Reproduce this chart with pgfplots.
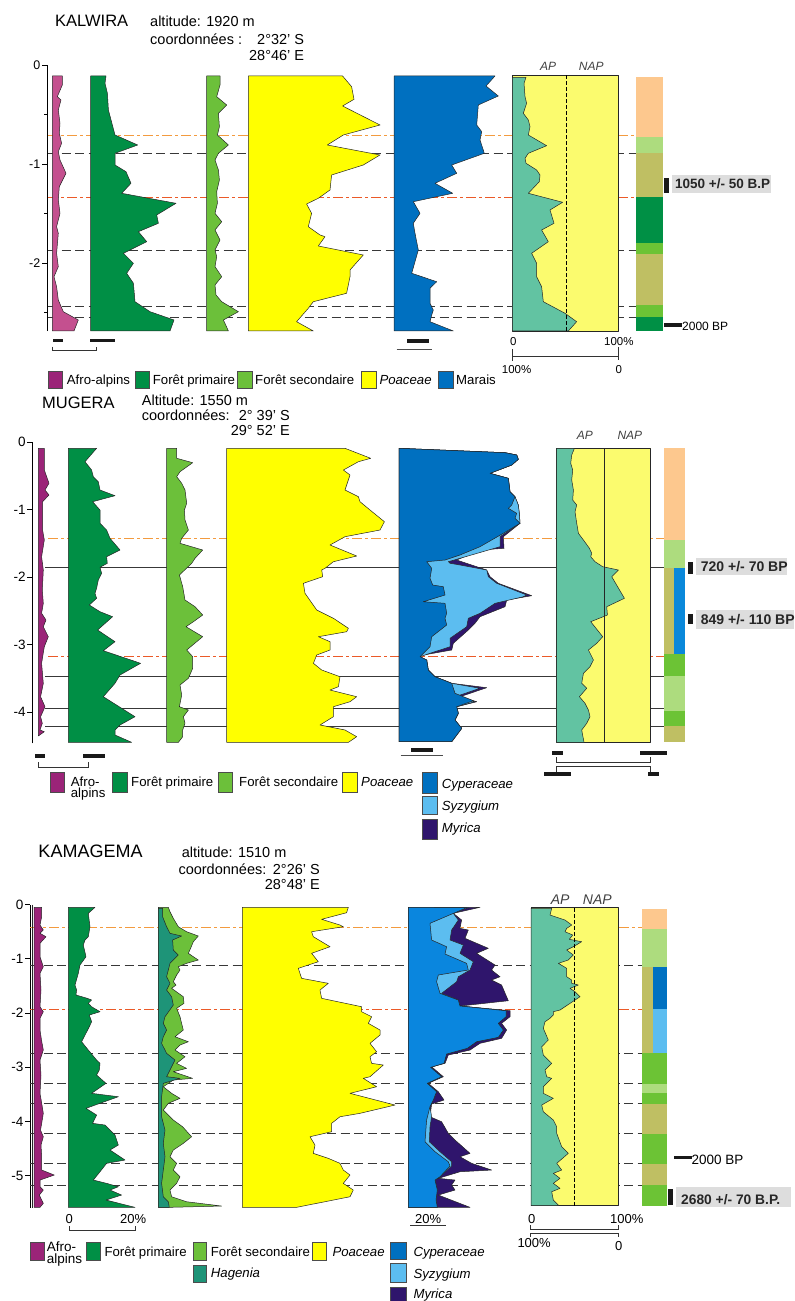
\documentclass[border=0pt]{standalone}
\usepackage{fontspec}
\setmainfont{Liberation Sans}
\usepackage{pgfplots}
\pgfplotsset{compat=1.18}
\definecolor{afroA}{HTML}{C4508F}
\definecolor{afro}{HTML}{9B2478}
\definecolor{fp}{HTML}{008F45}
\definecolor{fsec}{HTML}{6CC03A}
\definecolor{poa}{HTML}{FFFF00}
\definecolor{mar}{HTML}{0070C0}
\definecolor{cypC}{HTML}{0A86DE}
\definecolor{syz}{HTML}{5CBDF0}
\definecolor{myr}{HTML}{2F156C}
\definecolor{hag}{HTML}{1E9478}
\definecolor{apc}{HTML}{62C3A2}
\definecolor{napc}{HTML}{FBFB6E}
\definecolor{zpeach}{HTML}{FDC88E}
\definecolor{zlg}{HTML}{ADDC7E}
\definecolor{zol}{HTML}{BFBF63}
\definecolor{zdg}{HTML}{009045}
\definecolor{zmg}{HTML}{6CC335}
\definecolor{zbl}{HTML}{0A88DA}
\definecolor{zdb}{HTML}{0071C1}
\definecolor{lorange}{HTML}{F39B3F}
\definecolor{lred}{HTML}{EB5A28}
\definecolor{lgray}{HTML}{383838}
\definecolor{dbox}{HTML}{DDDDDD}
\newcommand\fs[1]{\fontsize{#1bp}{#1bp}\selectfont}
\def\Yo{65}\def\Ys{99}
\newcommand\cv[3]{\addplot[#1] table[x expr=\thisrow{w}+#2, y expr=(\Yo-\thisrow{y})/\Ys, row sep=\\]{#3} -- cycle;}
\newcommand\zn[5]{\addplot[fill=#1,draw=none] table[x=x, y expr=(\Yo-\thisrow{y})/\Ys, row sep=\\]{x y\\ #2 #4\\ #3 #4\\ #3 #5\\ #2 #5\\} -- cycle;}
\newcommand\hl[4]{\addplot[#1] table[x=x, y expr=(\Yo-\thisrow{y})/\Ys, row sep=\\]{x y\\ #2 #4\\ #3 #4\\};}
\newcommand\vl[4]{\addplot[#1] table[x=x, y expr=(\Yo-\thisrow{y})/\Ys, row sep=\\]{x y\\ #2 #3\\ #2 #4\\};}
\tikzset{sp/.style={draw=black!85, line width=0.5bp, line join=round},
 gd/.style={draw=lgray, line width=0.9bp, dash pattern=on 9bp off 4.5bp},
 gs/.style={draw=lgray, line width=0.8bp},
 t/.style={inner sep=0pt, anchor=base west},
 te/.style={inner sep=0pt, anchor=base east},
 lb/.style={draw=black!70, line width=0.4bp}}
\pgfplotsset{panel/.style={at={(0pt,0pt)}, anchor=north west, scale only axis, hide x axis, axis y line*=left,
 axis line style={-, line width=0.6bp}, clip=false, tick align=outside, major tick length=5bp,
 minor tick length=3bp, tick style={line width=0.6bp, black}, yticklabel style={inner sep=1.5bp}}}
\begin{document}
\begin{tikzpicture}[x=1bp,y=1bp]
\path[use as bounding box] (0,0) rectangle (794,-1301);
% ================= PANEL 1 KALWIRA =================
\def\Yo{65}\def\Ys{99}
\begin{scope}[shift={(47bp,-65bp)}]
\begin{axis}[panel, width=653bp, height=266bp, xmin=47, xmax=700, ymin=-2.687, ymax=0,
 ytick={0,-1,-2}, yticklabels={0,-1,-2}, minor ytick={-0.5,-1.5,-2.5}, yticklabel style={font=\fs{12.5}}]
\hl{gd}{48}{636}{153.3}
\hl{gd}{48}{636}{250.7}
\hl{gd}{48}{636}{306.7}
\hl{gd}{48}{636}{317.3}
\hl{color=lorange, solid, line width=1.4bp, dash pattern=on 10bp off 3bp on 3bp off 3bp}{48}{636}{135.5}
\hl{color=lred, solid, line width=1.4bp, dash pattern=on 10bp off 3bp on 3bp off 3bp}{48}{636}{197.5}
\zn{zpeach}{636}{663}{76.7}{136.7}
\zn{zlg}{636}{663}{136.7}{153.3}
\zn{zol}{636}{663}{153.3}{196.7}
\zn{zdg}{636}{663}{196.7}{242.7}
\zn{zmg}{636}{663}{242.7}{254}
\zn{zol}{636}{663}{254}{305}
\zn{zmg}{636}{663}{305}{316.7}
\zn{zdg}{636}{663}{316.7}{331}
\cv{sp,fill=afroA}{52.3}{y w\\ 76 0\\ 76 10\\ 85 10\\ 96.7 5\\ 100 8.7\\ 110 6\\ 123.3 7.7\\ 133.3 7\\ 143.3 9.3\\ 151.7 6\\ 160 7.7\\ 173.3 13.7\\ 186.7 7\\ 200 6\\ 213.3 7.7\\ 226.7 4.3\\ 233.3 6\\ 253.3 4.3\\ 266.7 6\\ 276.7 1.7\\ 286.7 4.3\\ 300 6\\ 311.7 11\\ 320 26\\ 331 21.7\\ 331 0\\}
\cv{sp,fill=fp}{90.7}{y w\\ 76 0\\ 76 15.3\\ 83.3 14.3\\ 93.3 16.7\\ 110 17.7\\ 135 24.3\\ 145 47\\ 153.3 24.3\\ 165 24.3\\ 171.7 35.3\\ 183.3 40.3\\ 193.3 31\\ 203.3 85.3\\ 215 66\\ 223.3 67.7\\ 231.7 47.7\\ 241.7 56\\ 253.3 32.7\\ 263.3 42.7\\ 273.3 36\\ 283.3 42.7\\ 301.7 44.3\\ 311.7 59.3\\ 320 83.3\\ 331 79.3\\ 331 0\\}
\cv{sp,fill=fsec}{206.7}{y w\\ 76 0\\ 76 13.3\\ 85 13.3\\ 96.7 10\\ 105 20\\ 113.3 11.7\\ 126.7 12.7\\ 135 10.7\\ 145 21.7\\ 153.3 11.7\\ 160 8.3\\ 170 11.7\\ 180 12.7\\ 191.7 10\\ 203.3 10.7\\ 213.3 8.3\\ 221.7 15\\ 230 8.3\\ 240 13.3\\ 250 8.3\\ 256.7 10\\ 266.7 8.3\\ 276.7 15\\ 285 8.3\\ 295 9.3\\ 301.7 15\\ 311.7 31.7\\ 320 16.7\\ 331 21.7\\ 331 0\\}
\cv{sp,fill=poa}{248.3}{y w\\ 76 0\\ 76 94.3\\ 86.7 103.3\\ 99.3 105.7\\ 106 94.3\\ 125 131.7\\ 135 95\\ 145 79\\ 155 131.7\\ 165 115\\ 175 83.3\\ 190 81.7\\ 198.3 70\\ 204 58.3\\ 213.3 63.3\\ 226.7 60\\ 235 71.7\\ 236.7 76.7\\ 246 70\\ 255 115\\ 270 101.7\\ 276.7 101.7\\ 293.3 98.3\\ 301.7 65\\ 308.3 60\\ 321.7 48.3\\ 331 65\\ 331 0\\}
\cv{sp,fill=mar}{394}{y w\\ 76 0\\ 76 101\\ 86 92\\ 96 104.3\\ 105 84.3\\ 125 82.7\\ 131.7 87.7\\ 140 86\\ 153.3 90.3\\ 165 57.7\\ 173.3 62.7\\ 183.3 41\\ 193.3 58.7\\ 201.7 19.3\\ 213.3 26\\ 223.3 19.3\\ 233.3 21\\ 250 24.3\\ 273.3 17.7\\ 281.7 42.7\\ 288.3 36\\ 303.3 36\\ 310 39.3\\ 315 37.7\\ 321.7 36\\ 331 59.3\\ 331 0\\}
\addplot[sp,fill=napc] table[x=x, y expr=(\Yo-\thisrow{y})/\Ys, row sep=\\]{x y\\ 512.3 75.3\\ 618.7 75.3\\ 618.7 331\\ 512.3 331\\} -- cycle;
\cv{sp,fill=apc}{512.3}{y w\\ 77.3 0\\ 77.3 13.7\\ 83.3 11.7\\ 96.7 12.7\\ 103.3 14.3\\ 113.3 11\\ 120 16\\ 126.7 17.7\\ 135 16\\ 145.7 34.3\\ 153.3 16\\ 158.3 12.7\\ 163.3 13.7\\ 170 24.3\\ 175 27.7\\ 181.7 27\\ 193.3 16\\ 202.3 50.3\\ 210 37.7\\ 223.3 41.7\\ 230 29.3\\ 241.7 36\\ 253.3 19.3\\ 263.3 24.3\\ 276.7 24.3\\ 286.7 29.3\\ 301.7 31\\ 313.3 52.7\\ 321.7 64.3\\ 331 56\\ 331 0\\}
\vl{black, line width=0.6bp, dash pattern=on 4bp off 2bp}{566.7}{75.3}{331}
\end{axis}
\end{scope}
% text panel 1
\node[t,font=\fs{16.5}] at (55,-26.7) {KALWIRA};
\node[t,font=\fs{14.5}] at (150,-26.7) {altitude: 1920 m};
\node[t,font=\fs{14.5}] at (150,-44.3) {coordonnées :};
\node[te,font=\fs{14.5}] at (304.3,-44.3) {2°32’ S};
\node[te,font=\fs{14.5}] at (304.3,-61) {28°46’ E};
\node[t,font=\fs{12}\itshape,text=black!75] at (540,-70.7) {AP};
\node[t,font=\fs{12}\itshape,text=black!75] at (578.7,-70.7) {NAP};
\fill[black!90] (52.7,-339) rectangle (62.7,-342);
\fill[black!90] (90,-339) rectangle (115,-342);
\draw[black!80,line width=0.5bp] (52.7,-346.7)--(52.7,-350)--(96,-350)--(96,-346.7);
\fill[black!90] (406.7,-339.3) rectangle (429,-343.3);
\draw[black!70,line width=0.6bp] (396.7,-349)--(432.3,-349);
\node[t,font=\fs{11.5}] at (510,-345) {0};
\node[t,font=\fs{11.5}] at (604,-345) {100\%};
\draw[black!80,line width=0.5bp] (512.3,-349)--(512.3,-361);
\draw[black!80,line width=0.5bp] (618.7,-347)--(618.7,-360);
\draw[black!80,line width=0.5bp] (512.3,-356.7)--(618.7,-356.7);
\node[t,font=\fs{11.5}] at (501.7,-373.3) {100\%};
\node[t,font=\fs{11.5}] at (615.3,-373.3) {0};
\fill[dbox] (672,-175) rectangle (771,-193);
\fill[black!90] (664,-177.7) rectangle (668.7,-193.3);
\node[t,font=\fs{13.5}\bfseries,text=black!85] at (675,-188.3) {1050 +/- 50 B.P};
\fill[black!90] (664,-322.7) rectangle (681.7,-327.3);
\node[t,font=\fs{12}] at (682,-330.7) {2000 BP};
% legend 1
\draw[lb,fill=afro] (48.3,-370.7) rectangle (61.7,-388.3);
\node[t,font=\fs{13.2}] at (66.7,-384.3) {Afro-alpins};
\draw[lb,fill=fp] (135,-370.7) rectangle (149,-388.3);
\node[t,font=\fs{13.2}] at (152.7,-384.3) {Forêt primaire};
\draw[lb,fill=fsec] (236.7,-370.7) rectangle (251.7,-388.3);
\node[t,font=\fs{13.2}] at (255,-384.3) {Forêt secondaire};
\draw[lb,fill=poa] (360.7,-370.7) rectangle (375.7,-388.3);
\node[t,font=\fs{13.2}\itshape] at (379.3,-384.3) {Poaceae};
\draw[lb,fill=mar] (438,-370.7) rectangle (453,-388.3);
\node[t,font=\fs{13.2}] at (456,-384.3) {Marais};
% ================= PANEL 2 MUGERA =================
\def\Yo{442.3}\def\Ys{67.4}
\begin{scope}[shift={(32.3bp,-442.3bp)}]
\begin{axis}[panel, width=667.7bp, height=301bp, xmin=32.3, xmax=700, ymin=-4.466, ymax=0,
 ytick={0,-1,-2,-3,-4}, yticklabels={0,-1,-2,-3,-4}, yticklabel style={font=\fs{13.5}}]
\hl{color=lorange, solid, line width=1.1bp, dash pattern=on 10bp off 3bp on 3bp off 3bp}{48}{664}{538.3}
\hl{gs}{45}{664}{567.7}
\hl{color=lred, solid, line width=1.1bp, dash pattern=on 10bp off 3bp on 3bp off 3bp}{48}{664}{656.3}
\hl{gs}{45}{664}{676.3}
\hl{gs}{45}{664}{708.3}
\hl{gs}{45}{664}{726}
\zn{zpeach}{664}{685}{448.3}{540}
\zn{zlg}{664}{685}{540}{567.7}
\zn{zol}{664}{674}{567.7}{654}
\zn{zbl}{674}{685}{567.7}{654}
\zn{zmg}{664}{685}{654}{676}
\zn{zlg}{664}{685}{676}{711}
\zn{zmg}{664}{685}{711}{726}
\zn{zol}{664}{685}{726}{742.3}
\cv{sp,fill=afro}{38.3}{y w\\ 448.3 0\\ 448.3 6\\ 470 6\\ 483.3 10.7\\ 490 6.7\\ 495 10.7\\ 501.7 4.3\\ 530 4.3\\ 540 6\\ 556.7 3.3\\ 570 5\\ 590 4\\ 603.3 5\\ 613.3 3.3\\ 620 7.7\\ 626.7 5\\ 636.7 10\\ 646.7 6\\ 663.3 3.3\\ 683.3 5\\ 696.7 2.3\\ 706.7 6.7\\ 716.7 2.3\\ 723.3 4\\ 730 1.7\\ 731.7 6\\ 736 0\\}
\cv{sp,fill=fp}{68.3}{y w\\ 448.3 0\\ 448.3 28.3\\ 461.7 16.7\\ 470 23.3\\ 476.7 25\\ 481.7 30\\ 490 31.7\\ 495.7 46.7\\ 501.7 24.3\\ 510 31.7\\ 523.3 31.7\\ 530 38.3\\ 538.3 41.7\\ 550 51.7\\ 556.7 38.3\\ 563.3 39\\ 567.3 31.7\\ 573.3 33.3\\ 580 30\\ 588.3 28.3\\ 593.3 26.7\\ 598.3 28.3\\ 605 21\\ 611.7 31.7\\ 616.7 44.3\\ 630 29.3\\ 641.7 46.7\\ 650.7 35\\ 663.3 72.3\\ 675 51.7\\ 683.3 46.7\\ 696.7 35\\ 716.7 66.7\\ 725 51.7\\ 730 46.7\\ 735 46.7\\ 742.3 63.3\\ 742.3 0\\}
\cv{sp,fill=fsec}{166.7}{y w\\ 448.3 0\\ 448.3 10\\ 458.3 10\\ 462.7 26\\ 471.7 13.3\\ 476.7 10\\ 483.3 15\\ 490 18.3\\ 503.3 20\\ 510 17.7\\ 520 18.3\\ 530 21.7\\ 538.3 15\\ 543.3 13.3\\ 550 36\\ 558.3 28.3\\ 563.3 25\\ 575 12.7\\ 586.7 16\\ 600 18.3\\ 606.7 28.3\\ 615 36\\ 621.7 26.7\\ 626.7 19.3\\ 636.7 36\\ 650 20\\ 656.7 26\\ 668.3 26\\ 678.3 21.7\\ 685 13.3\\ 695 15\\ 706.7 12.7\\ 710 21.7\\ 716.7 16.7\\ 723.3 18.3\\ 730 16\\ 736.7 16\\ 742.3 11.7\\ 742.3 0\\}
\cv{sp,fill=poa}{226.7}{y w\\ 448.3 0\\ 448.3 118.3\\ 458.3 144\\ 461.7 131.7\\ 470 116.7\\ 475 123.3\\ 490 118.3\\ 496.7 131.7\\ 501.7 133.3\\ 510 143.3\\ 521.7 157.7\\ 530 153.3\\ 536.7 118.3\\ 545 103.3\\ 556 130\\ 561.7 106.7\\ 568.3 98.3\\ 570 95\\ 576.7 96\\ 583.3 76.7\\ 593.3 78.3\\ 610 90\\ 618.3 106.7\\ 628.3 121.7\\ 631.7 120\\ 636.7 91.7\\ 641.7 103.3\\ 650 103.3\\ 655 90\\ 663.3 86.7\\ 670 95\\ 676.7 113.3\\ 686.7 111.7\\ 690 103.3\\ 696.7 130\\ 701.7 123.3\\ 706.7 106.7\\ 716.7 106.7\\ 725 93.3\\ 730 118.3\\ 736.7 130\\ 742.3 121.7\\ 742.3 0\\}
\cv{sp,fill=myr}{399}{y w\\ 448.3 0\\ 452.7 106\\ 455 117.7\\ 459.3 119.3\\ 465 112.7\\ 473.3 91\\ 478.3 109.3\\ 491.7 111\\ 496.7 116\\ 505 119.3\\ 513.3 120.3\\ 523.3 121\\ 536.7 104.3\\ 548.3 105\\ 550 81\\ 560 57.7\\ 570 87.7\\ 576.7 91\\ 583.3 99.3\\ 595.7 132.7\\ 600 107.7\\ 606.7 106\\ 616.7 81\\ 623.3 76\\ 630 69.3\\ 643.3 54.3\\ 650 52.7\\ 655 24.3\\ 656.7 21\\ 660 27.7\\ 670 29.3\\ 676.7 36\\ 683.3 52.7\\ 687.7 87.7\\ 696.7 61\\ 701.7 77.7\\ 706.7 57.7\\ 713.3 59.3\\ 720 56\\ 728.3 62.7\\ 741.7 52.7\\ 741.7 0\\}
\cv{sp,fill=syz}{399}{y w\\ 448.3 0\\ 452.7 106\\ 455 117.7\\ 459.3 119.3\\ 465 112.7\\ 473.3 91\\ 478.3 109.3\\ 491.7 111\\ 496.7 116\\ 505 119.3\\ 513.3 120.3\\ 523.3 121\\ 536.7 101\\ 546.7 101\\ 558.3 61\\ 561.7 49.3\\ 563.3 51\\ 565 61\\ 570 87.7\\ 576.7 89.3\\ 583.3 97.7\\ 595 127.7\\ 596.7 124.3\\ 603.3 96\\ 613.3 81\\ 618.3 69.3\\ 626.7 67.7\\ 638.3 51\\ 646.7 51\\ 653.3 31\\ 656.7 21\\ 660 27.7\\ 670 29.3\\ 676.7 36\\ 683.3 52.7\\ 688.3 81\\ 696.7 56\\ 701.7 76\\ 706.7 57.7\\ 713.3 59.3\\ 720 56\\ 728.3 62.7\\ 741.7 52.7\\ 741.7 0\\}
\cv{sp,fill=mar}{399}{y w\\ 448.3 0\\ 452.7 106\\ 455 117.7\\ 459.3 119.3\\ 465 112.7\\ 473.3 91\\ 478.3 109.3\\ 491.7 111\\ 496.7 116\\ 505 112.7\\ 508.3 109.3\\ 513.3 117.7\\ 518.3 116\\ 523.3 121\\ 533.3 104.3\\ 546.7 81\\ 555 61\\ 560 46\\ 561.7 27.7\\ 568.3 32.7\\ 578.3 31\\ 585 33.7\\ 586.7 44.3\\ 595 46\\ 601.7 24.3\\ 603.3 46\\ 613.3 47.7\\ 618.3 46\\ 625 47.7\\ 636.7 32.7\\ 646.7 31\\ 656.7 21\\ 660 27.7\\ 670 29.3\\ 676.7 36\\ 683.3 52.7\\ 693.3 56\\ 700.7 74.3\\ 706.7 57.7\\ 713.3 59.3\\ 720 56\\ 728.3 62.7\\ 741.7 52.7\\ 741.7 0\\}
\addplot[sp,fill=napc] table[x=x, y expr=(\Yo-\thisrow{y})/\Ys, row sep=\\]{x y\\ 556.7 448.3\\ 650.7 448.3\\ 650.7 742.3\\ 556.7 742.3\\} -- cycle;
\cv{sp,fill=apc}{556.7}{y w\\ 448.3 0\\ 448.3 17.7\\ 455 15\\ 463.3 14\\ 470 16\\ 480 15\\ 490 16.7\\ 500 16\\ 505 20\\ 511.7 18.3\\ 523.3 20\\ 533.3 21.7\\ 540 26.7\\ 548.3 32.7\\ 553.3 35\\ 556.7 34\\ 561.7 38.3\\ 566.7 46\\ 570 61.7\\ 576.7 55\\ 598.3 67.7\\ 606.7 50\\ 615 50.7\\ 621.7 34\\ 636.7 46\\ 643.3 40\\ 650 31.7\\ 660 36.7\\ 666.7 33.3\\ 673.3 26.7\\ 683.3 25\\ 688.3 30\\ 696.7 22.7\\ 703.3 28.3\\ 710 31.7\\ 716.7 33.3\\ 723.3 30\\ 730 25\\ 742.3 27.3\\ 742.3 0\\}
\vl{black!85, line width=0.6bp}{604.7}{448.3}{742.3}
\end{axis}
\end{scope}
% text panel 2
\node[t,font=\fs{16.5}] at (42,-408.3) {MUGERA};
\node[t,font=\fs{14.5}] at (141.7,-405) {Altitude: 1550 m};
\node[t,font=\fs{14.5}] at (141.7,-420) {coordonnées:};
\node[te,font=\fs{14.5}] at (290,-420) {2° 39’ S};
\node[te,font=\fs{14.5}] at (290,-435) {29° 52’ E};
\node[t,font=\fs{12}\itshape,text=black!75] at (576.7,-439.3) {AP};
\node[t,font=\fs{12}\itshape,text=black!75] at (617.3,-439.3) {NAP};
\fill[black!90] (35,-754) rectangle (45,-758.3);
\fill[black!90] (82.7,-754) rectangle (105,-758.3);
\draw[black!80,line width=0.5bp] (38.3,-762)--(38.3,-767.3)--(88.3,-767.3)--(88.3,-762);
\fill[black!90] (411,-748.3) rectangle (432.7,-751.5);
\draw[black!70,line width=0.6bp] (400.7,-755.7)--(442.7,-755.7);
\fill[black!90] (551.7,-750.7) rectangle (562.7,-755);
\fill[black!90] (640,-750.7) rectangle (666.7,-755);
\draw[black!80,line width=0.5bp] (556.7,-757)--(556.7,-762.7)--(650.7,-762.7)--(650.7,-757);
\draw[black!80,line width=0.5bp] (556.7,-772)--(556.7,-766.7)--(650.7,-766.7)--(650.7,-772);
\fill[black!90] (544,-772.3) rectangle (570.7,-776);
\fill[black!90] (648.3,-772.3) rectangle (659,-776);
\fill[dbox] (696,-558) rectangle (787,-575);
\fill[black!90] (688.3,-562.3) rectangle (692.7,-574.3);
\node[t,font=\fs{14}\bfseries,text=black!85] at (700.7,-571.7) {720 +/- 70 BP};
\fill[dbox] (696,-610) rectangle (794,-629);
\fill[black!90] (688.3,-614) rectangle (692.7,-624);
\node[t,font=\fs{14}\bfseries,text=black!85] at (700.7,-624) {849 +/- 110 BP};
% legend 2
\draw[lb,fill=afro] (50,-772.3) rectangle (64.3,-792.3);
\node[t,font=\fs{13.2}] at (70.7,-786) {Afro-};
\node[t,font=\fs{13.2}] at (70.7,-797) {alpins};
\draw[lb,fill=fp] (112.3,-772.3) rectangle (126.7,-792.3);
\node[t,font=\fs{13.2}] at (131,-786) {Forêt primaire};
\draw[lb,fill=fsec] (218.3,-772.3) rectangle (232.3,-792.3);
\node[t,font=\fs{13.2}] at (239,-786) {Forêt secondaire};
\draw[lb,fill=poa] (342.3,-772.3) rectangle (356.7,-792.3);
\node[t,font=\fs{13.2}\itshape] at (361,-786) {Poaceae};
\draw[lb,fill=mar] (422.3,-771.7) rectangle (437.3,-792.7);
\node[t,font=\fs{13.2}\itshape] at (441.7,-788.3) {Cyperaceae};
\draw[lb,fill=syz] (422.3,-796) rectangle (437.3,-814);
\node[t,font=\fs{13.2}\itshape] at (441.7,-810) {Syzygium};
\draw[lb,fill=myr] (422.3,-819) rectangle (437.3,-839);
\node[t,font=\fs{13.2}\itshape] at (441.7,-832.7) {Myrica};
% ================= PANEL 3 KAMAGEMA =================
\def\Yo{904.5}\def\Ys{54.25}
\begin{scope}[shift={(30bp,-904.5bp)}]
\begin{axis}[panel, width=670bp, height=303.5bp, xmin=30, xmax=700, ymin=-5.594, ymax=0,
 ytick={0,-1,-2,-3,-4,-5}, yticklabels={0,-1,-2,-3,-4,-5}, yticklabel style={font=\fs{13.5}}]
\hl{gd}{30}{641.7}{965.7}
\hl{gd}{30}{641.7}{1053.3}
\hl{gd}{30}{641.7}{1083.3}
\hl{gd}{30}{641.7}{1103.3}
\hl{gd}{30}{641.7}{1133.3}
\hl{gd}{30}{641.7}{1163.3}
\hl{gd}{30}{641.7}{1185.5}
\hl{color=lorange, solid, line width=1.4bp, dash pattern=on 10bp off 3bp on 3bp off 3bp}{30}{641.7}{927.5}
\hl{color=lred, solid, line width=1.4bp, dash pattern=on 10bp off 3bp on 3bp off 3bp}{30}{641.7}{1009.3}
\zn{zpeach}{641.7}{666.7}{909}{929}
\zn{zlg}{641.7}{666.7}{929}{966.7}
\zn{zol}{641.7}{653.3}{966.7}{1052.7}
\zn{zdb}{653.3}{666.7}{966.7}{1009}
\zn{syz}{653.3}{666.7}{1009}{1052.7}
\zn{zmg}{641.7}{666.7}{1052.7}{1084}
\zn{zlg}{641.7}{666.7}{1084}{1093.3}
\zn{zmg}{641.7}{666.7}{1093.3}{1104}
\zn{zol}{641.7}{666.7}{1104}{1134}
\zn{zmg}{641.7}{666.7}{1134}{1164}
\zn{zol}{641.7}{666.7}{1164}{1185}
\zn{zmg}{641.7}{666.7}{1185}{1206}
\cv{sp,fill=afro}{34}{y w\\ 907.3 0\\ 907.3 7.7\\ 916.7 7.7\\ 925 6\\ 930 9.3\\ 933.3 6\\ 936.7 12\\ 943.3 6\\ 956.7 6\\ 966.7 9.3\\ 973.3 6\\ 990 7\\ 1006.7 6\\ 1011.7 9.3\\ 1018.3 6\\ 1030 6\\ 1040 7.5\\ 1050 9.3\\ 1060 6\\ 1075 7\\ 1093.3 6\\ 1105 8\\ 1113.3 9.3\\ 1123.3 7.7\\ 1130 6.5\\ 1136.7 9.3\\ 1145 7\\ 1156.7 7.7\\ 1170 7.7\\ 1175 20.3\\ 1180 6\\ 1186.7 6\\ 1190 9.3\\ 1195 5.3\\ 1200 7.7\\ 1203.3 9.3\\ 1207.3 6\\ 1207.3 0\\}
\cv{sp,fill=fp}{68.3}{y w\\ 907.3 0\\ 907.3 26.7\\ 913.3 20\\ 926.7 21.7\\ 936.7 20\\ 940 16.7\\ 945 15\\ 956.7 17.7\\ 965 11.7\\ 973.3 10\\ 985 6.7\\ 990 8.3\\ 995 7.7\\ 998.3 19\\ 1000 23.3\\ 1003.3 20\\ 1006.7 23.3\\ 1011.7 31.7\\ 1015 21\\ 1021.7 23.3\\ 1026.7 21\\ 1041.7 13.3\\ 1050 20\\ 1060 28.3\\ 1063.3 31.7\\ 1070 31\\ 1075 28.3\\ 1083.3 37.7\\ 1093.3 23.3\\ 1096.7 50\\ 1108.3 17.7\\ 1115 28.3\\ 1123.3 24.3\\ 1125 36.7\\ 1135 46.7\\ 1145 50\\ 1150 41.7\\ 1160 56.7\\ 1163.3 38.3\\ 1171.7 31.7\\ 1180 25\\ 1183.3 38.3\\ 1186.7 50\\ 1190 41.7\\ 1195 53.3\\ 1200 37.7\\ 1207.3 66.7\\ 1207.3 0\\}
\cv{sp,fill=fsec}{158.3}{y w\\ 907.3 0\\ 907.3 10\\ 911.7 11.7\\ 918.3 15\\ 926.7 20\\ 931.7 28.3\\ 936 40\\ 941.7 35\\ 948.3 32.3\\ 953.3 30\\ 960 40\\ 963.3 28.3\\ 966.7 20\\ 970 21.7\\ 975 18.3\\ 981.7 15\\ 985 17.7\\ 988.3 13.3\\ 996.7 25\\ 1003.3 25.7\\ 1008.3 18.3\\ 1016.7 21.7\\ 1023.3 23.3\\ 1030 25\\ 1036.7 16.7\\ 1041.7 30\\ 1045 21.7\\ 1050 16.7\\ 1056.7 26.7\\ 1063.3 18.3\\ 1068.3 28.3\\ 1071.7 15\\ 1078.3 34.3\\ 1080 15\\ 1086.7 5\\ 1093.3 13.3\\ 1098.3 21.7\\ 1103.3 10\\ 1110 5\\ 1120 15\\ 1126.7 24.3\\ 1136.7 33.3\\ 1143.3 25\\ 1150 15\\ 1156.7 11.7\\ 1163.3 18.3\\ 1170 15\\ 1176.7 21.7\\ 1183.3 18.3\\ 1190 11.7\\ 1196.7 13.3\\ 1201.7 28.3\\ 1206 63.3\\ 1207.3 11\\ 1207.3 0\\}
\cv{sp,fill=hag}{158.3}{y w\\ 908.3 0\\ 908.3 4.3\\ 916.7 4.3\\ 926.7 8.3\\ 933.3 11.7\\ 936 23.3\\ 940 14.3\\ 950 15\\ 955 20\\ 963.3 11.7\\ 970 10\\ 976.7 8.3\\ 983.3 11.7\\ 990 8.3\\ 996.7 13.3\\ 1005 15\\ 1016.7 6.7\\ 1023.3 5\\ 1030 8.3\\ 1036.7 5\\ 1043.3 3.3\\ 1050 6.7\\ 1053.3 8.3\\ 1060 16.7\\ 1070 11.7\\ 1076.7 8.3\\ 1078.3 21.7\\ 1083.3 5\\ 1096.7 3.3\\ 1116.7 3.3\\ 1130 6.7\\ 1143.3 5\\ 1156.7 6.7\\ 1170 5\\ 1183.3 3.3\\ 1196.7 5\\ 1201.7 10\\ 1207.3 11\\ 1207.3 0\\}
\cv{sp,fill=poa}{242.3}{y w\\ 907.3 0\\ 907.3 106\\ 912.7 104.3\\ 919.3 79.3\\ 925 97.7\\ 926.7 101\\ 931.7 69.3\\ 936.7 71\\ 946.7 87.7\\ 953.3 69.3\\ 961.7 76\\ 968.3 56\\ 978.3 59.3\\ 983.3 86\\ 990 77.7\\ 998.3 79.3\\ 1006.7 119.3\\ 1011.7 119.3\\ 1016.7 129.3\\ 1023.3 126\\ 1030 137.7\\ 1035 137.7\\ 1043.3 127.7\\ 1051.7 134.3\\ 1056.7 127.7\\ 1063.3 129.3\\ 1065 141\\ 1076.7 127.7\\ 1078.3 121\\ 1086.7 134.3\\ 1093.3 107.7\\ 1105 152.7\\ 1113.3 117.7\\ 1116.7 97.7\\ 1123.3 89.3\\ 1131.7 89.3\\ 1136.7 67.7\\ 1145 72.7\\ 1153.3 71\\ 1158.3 86\\ 1163.3 97.7\\ 1170 101\\ 1175 107.7\\ 1183.3 101\\ 1190 111\\ 1196.7 107.7\\ 1207.3 54.3\\ 1207.3 0\\}
\cv{sp,fill=myr}{408.3}{y w\\ 907.3 0\\ 907.3 71.7\\ 913.3 45\\ 920 53.3\\ 928.3 51.7\\ 930 60\\ 938.3 56.7\\ 948.3 80\\ 953.3 68.3\\ 965 86.7\\ 970 83.3\\ 976.7 91.7\\ 980 83.3\\ 985 93.3\\ 1000.7 100\\ 1006 51.7\\ 1010.7 101.7\\ 1016.7 101.7\\ 1023.3 93.3\\ 1030 98.3\\ 1038.3 93.3\\ 1043.3 71.7\\ 1050 61.7\\ 1055 40\\ 1063.3 36.7\\ 1066.7 23.3\\ 1076.7 35\\ 1083.3 20\\ 1091.7 30\\ 1100 35.7\\ 1104 23.3\\ 1116.7 21.7\\ 1121.7 33.3\\ 1133.3 40\\ 1140 46.7\\ 1153.3 61.7\\ 1156.7 51.7\\ 1163.3 63.3\\ 1170 83.3\\ 1171.7 51.7\\ 1178.3 30\\ 1180 46.7\\ 1185 43.3\\ 1190 46.7\\ 1195 30\\ 1207.3 61.7\\ 1207.3 0\\}
\cv{sp,fill=syz}{408.3}{y w\\ 907.3 0\\ 907.7 60\\ 913.3 45\\ 920 50\\ 930 43.3\\ 940 41.7\\ 945 55\\ 953.3 51.7\\ 961.7 65\\ 970 61.7\\ 976.7 50\\ 981.7 48.3\\ 993.3 33.3\\ 1000 50\\ 1006 51.7\\ 1010.7 97.7\\ 1016.7 97.7\\ 1023.3 90\\ 1030 95\\ 1037.3 90\\ 1041.7 68.3\\ 1048.3 59\\ 1054 38.3\\ 1063.3 35.7\\ 1067.3 22.3\\ 1076.7 33.3\\ 1083.3 19\\ 1091.7 28.3\\ 1100 25\\ 1106.7 21.7\\ 1116.7 23.3\\ 1126.7 21.7\\ 1141.7 21\\ 1151.7 31.7\\ 1161.7 43.3\\ 1166 43.3\\ 1176.7 31.7\\ 1180 26.7\\ 1190 29\\ 1200 27.7\\ 1207.3 29\\ 1207.3 0\\}
\cv{sp,fill=cypC}{408.3}{y w\\ 907.3 0\\ 907.7 58.3\\ 923.3 21.7\\ 940 23.3\\ 946.7 38.3\\ 954 36.7\\ 963.3 58.3\\ 970 60\\ 975 30\\ 981.7 28.3\\ 993.3 31.7\\ 1000 50\\ 1006 51.7\\ 1010.7 97.7\\ 1016.7 97.7\\ 1023.3 90\\ 1030 95\\ 1037.3 90\\ 1041.7 68.3\\ 1048.3 59\\ 1054 38.3\\ 1063.3 35.7\\ 1067.3 22.3\\ 1076.7 33.3\\ 1083.3 19\\ 1091.7 28.3\\ 1100 25\\ 1106.7 21.7\\ 1120 18.3\\ 1141.7 16.7\\ 1151.7 26.7\\ 1161.7 40\\ 1166 41.7\\ 1176.7 31.7\\ 1180 26.7\\ 1190 29\\ 1200 27.7\\ 1207.3 29\\ 1207.3 0\\}
\addplot[sp,fill=napc] table[x=x, y expr=(\Yo-\thisrow{y})/\Ys, row sep=\\]{x y\\ 531 907.7\\ 618.3 907.7\\ 618.3 1205.7\\ 531 1205.7\\} -- cycle;
\cv{sp,fill=apc}{531}{y w\\ 908.3 0\\ 908.3 20.7\\ 915 19\\ 920 34\\ 925 40.7\\ 928.3 35.7\\ 931.7 34\\ 935 41.7\\ 939.3 38.3\\ 941.7 50.7\\ 946.7 42.3\\ 950 35.7\\ 955 42.3\\ 960 37.3\\ 963.3 27.3\\ 968.3 35.7\\ 976.7 35.7\\ 980 40.7\\ 983.3 40.7\\ 985 47.3\\ 988.3 39\\ 991.7 44\\ 996.7 49\\ 1010 29\\ 1011.7 22.3\\ 1015 22.3\\ 1018.3 19\\ 1021.7 14\\ 1028.3 12.3\\ 1040 17.3\\ 1046.7 10.7\\ 1055 12.3\\ 1063.3 20.7\\ 1070 14\\ 1076.7 15.7\\ 1078.3 20.7\\ 1086.7 12.3\\ 1093.3 12.3\\ 1098.3 22.3\\ 1105 10.7\\ 1111.7 12.3\\ 1120 22.3\\ 1126.7 25.7\\ 1133.3 25.7\\ 1146.7 30.7\\ 1153.3 37.3\\ 1163.3 25.7\\ 1170 30.7\\ 1173.3 22.3\\ 1178.3 29\\ 1183.3 22.3\\ 1188.3 29\\ 1191.7 20.7\\ 1200 22.3\\ 1205 27.3\\ 1205.7 27.3\\ 1205.7 0\\}
\vl{black, line width=0.6bp, dash pattern=on 4bp off 2bp}{574.3}{907.7}{1205.7}
\end{axis}
\end{scope}
\draw[black!85,line width=0.6bp] (32.4,-904.5)--(32.4,-1208);
% text panel 3
\node[t,font=\fs{18}] at (38.3,-857.3) {KAMAGEMA};
\node[t,font=\fs{14.5}] at (181.7,-857.3) {altitude: 1510 m};
\node[t,font=\fs{14.5}] at (178.3,-874) {coordonnées:};
\node[te,font=\fs{14.5}] at (320,-874) {2°26’ S};
\node[te,font=\fs{14.5}] at (320,-889.3) {28°48’ E};
\node[t,font=\fs{14}\itshape,text=black!75] at (550.7,-904) {AP};
\node[t,font=\fs{14}\itshape,text=black!75] at (582.7,-904) {NAP};
\node[t,font=\fs{13}] at (65.5,-1223.3) {0};
\node[t,font=\fs{13}] at (120,-1223.3) {20\%};
\draw[black!80,line width=0.5bp] (69.3,-1226)--(69.3,-1230)--(135.5,-1230)--(135.5,-1226);
\node[t,font=\fs{13}] at (415,-1223.3) {20\%};
\draw[black!80,line width=0.5bp] (410,-1225.7)--(446,-1225.7);
\node[t,font=\fs{13}] at (528,-1223.3) {0};
\node[t,font=\fs{13}] at (610,-1223.3) {100\%};
\draw[black!80,line width=0.5bp] (530.7,-1225)--(530.7,-1229.3)--(618.3,-1229.3)--(618.3,-1225);
\draw[black!80,line width=0.5bp] (530.7,-1237)--(530.7,-1233.3)--(618.3,-1233.3)--(618.3,-1237);
\node[t,font=\fs{13}] at (517.3,-1247.3) {100\%};
\node[t,font=\fs{13}] at (615,-1250) {0};
\fill[black!90] (674,-1155.7) rectangle (691.7,-1159);
\node[t,font=\fs{13.5}] at (691.5,-1164) {2000 BP};
\fill[dbox] (676,-1187.3) rectangle (790.7,-1207);
\fill[black!90] (668,-1189.3) rectangle (673,-1205);
\node[t,font=\fs{13.8}\bfseries,text=black!85] at (681,-1204) {2680 +/- 70 B.P.};
% legend 3
\draw[lb,fill=afro] (30,-1242.3) rectangle (44.3,-1260);
\node[t,font=\fs{13.5}] at (46.7,-1251.7) {Afro-};
\node[t,font=\fs{13.5}] at (46.7,-1263.3) {alpins};
\draw[lb,fill=fp] (86,-1242.3) rectangle (100,-1260);
\node[t,font=\fs{13.2}] at (104.3,-1256.7) {Forêt primaire};
\draw[lb,fill=fsec] (192.7,-1242.3) rectangle (206,-1260);
\node[t,font=\fs{13.2}] at (210.7,-1256.7) {Forêt secondaire};
\draw[lb,fill=hag] (192.7,-1265) rectangle (206,-1281.7);
\node[t,font=\fs{13.2}\itshape] at (210.7,-1277.5) {Hagenia};
\draw[lb,fill=poa] (312.3,-1242.3) rectangle (325.7,-1260);
\node[t,font=\fs{13.2}\itshape] at (332.3,-1256.7) {Poaceae};
\draw[lb,fill=mar] (390,-1241.7) rectangle (406,-1259.3);
\node[t,font=\fs{13.2}\itshape] at (413.3,-1256.7) {Cyperaceae};
\draw[lb,fill=syz] (390,-1263.3) rectangle (406,-1281.7);
\node[t,font=\fs{13.2}\itshape] at (413.3,-1278) {Syzygium};
\draw[lb,fill=myr] (390,-1286.7) rectangle (406,-1301);
\node[t,font=\fs{13.2}\itshape] at (413.3,-1298.3) {Myrica};
\end{tikzpicture}
\end{document}
